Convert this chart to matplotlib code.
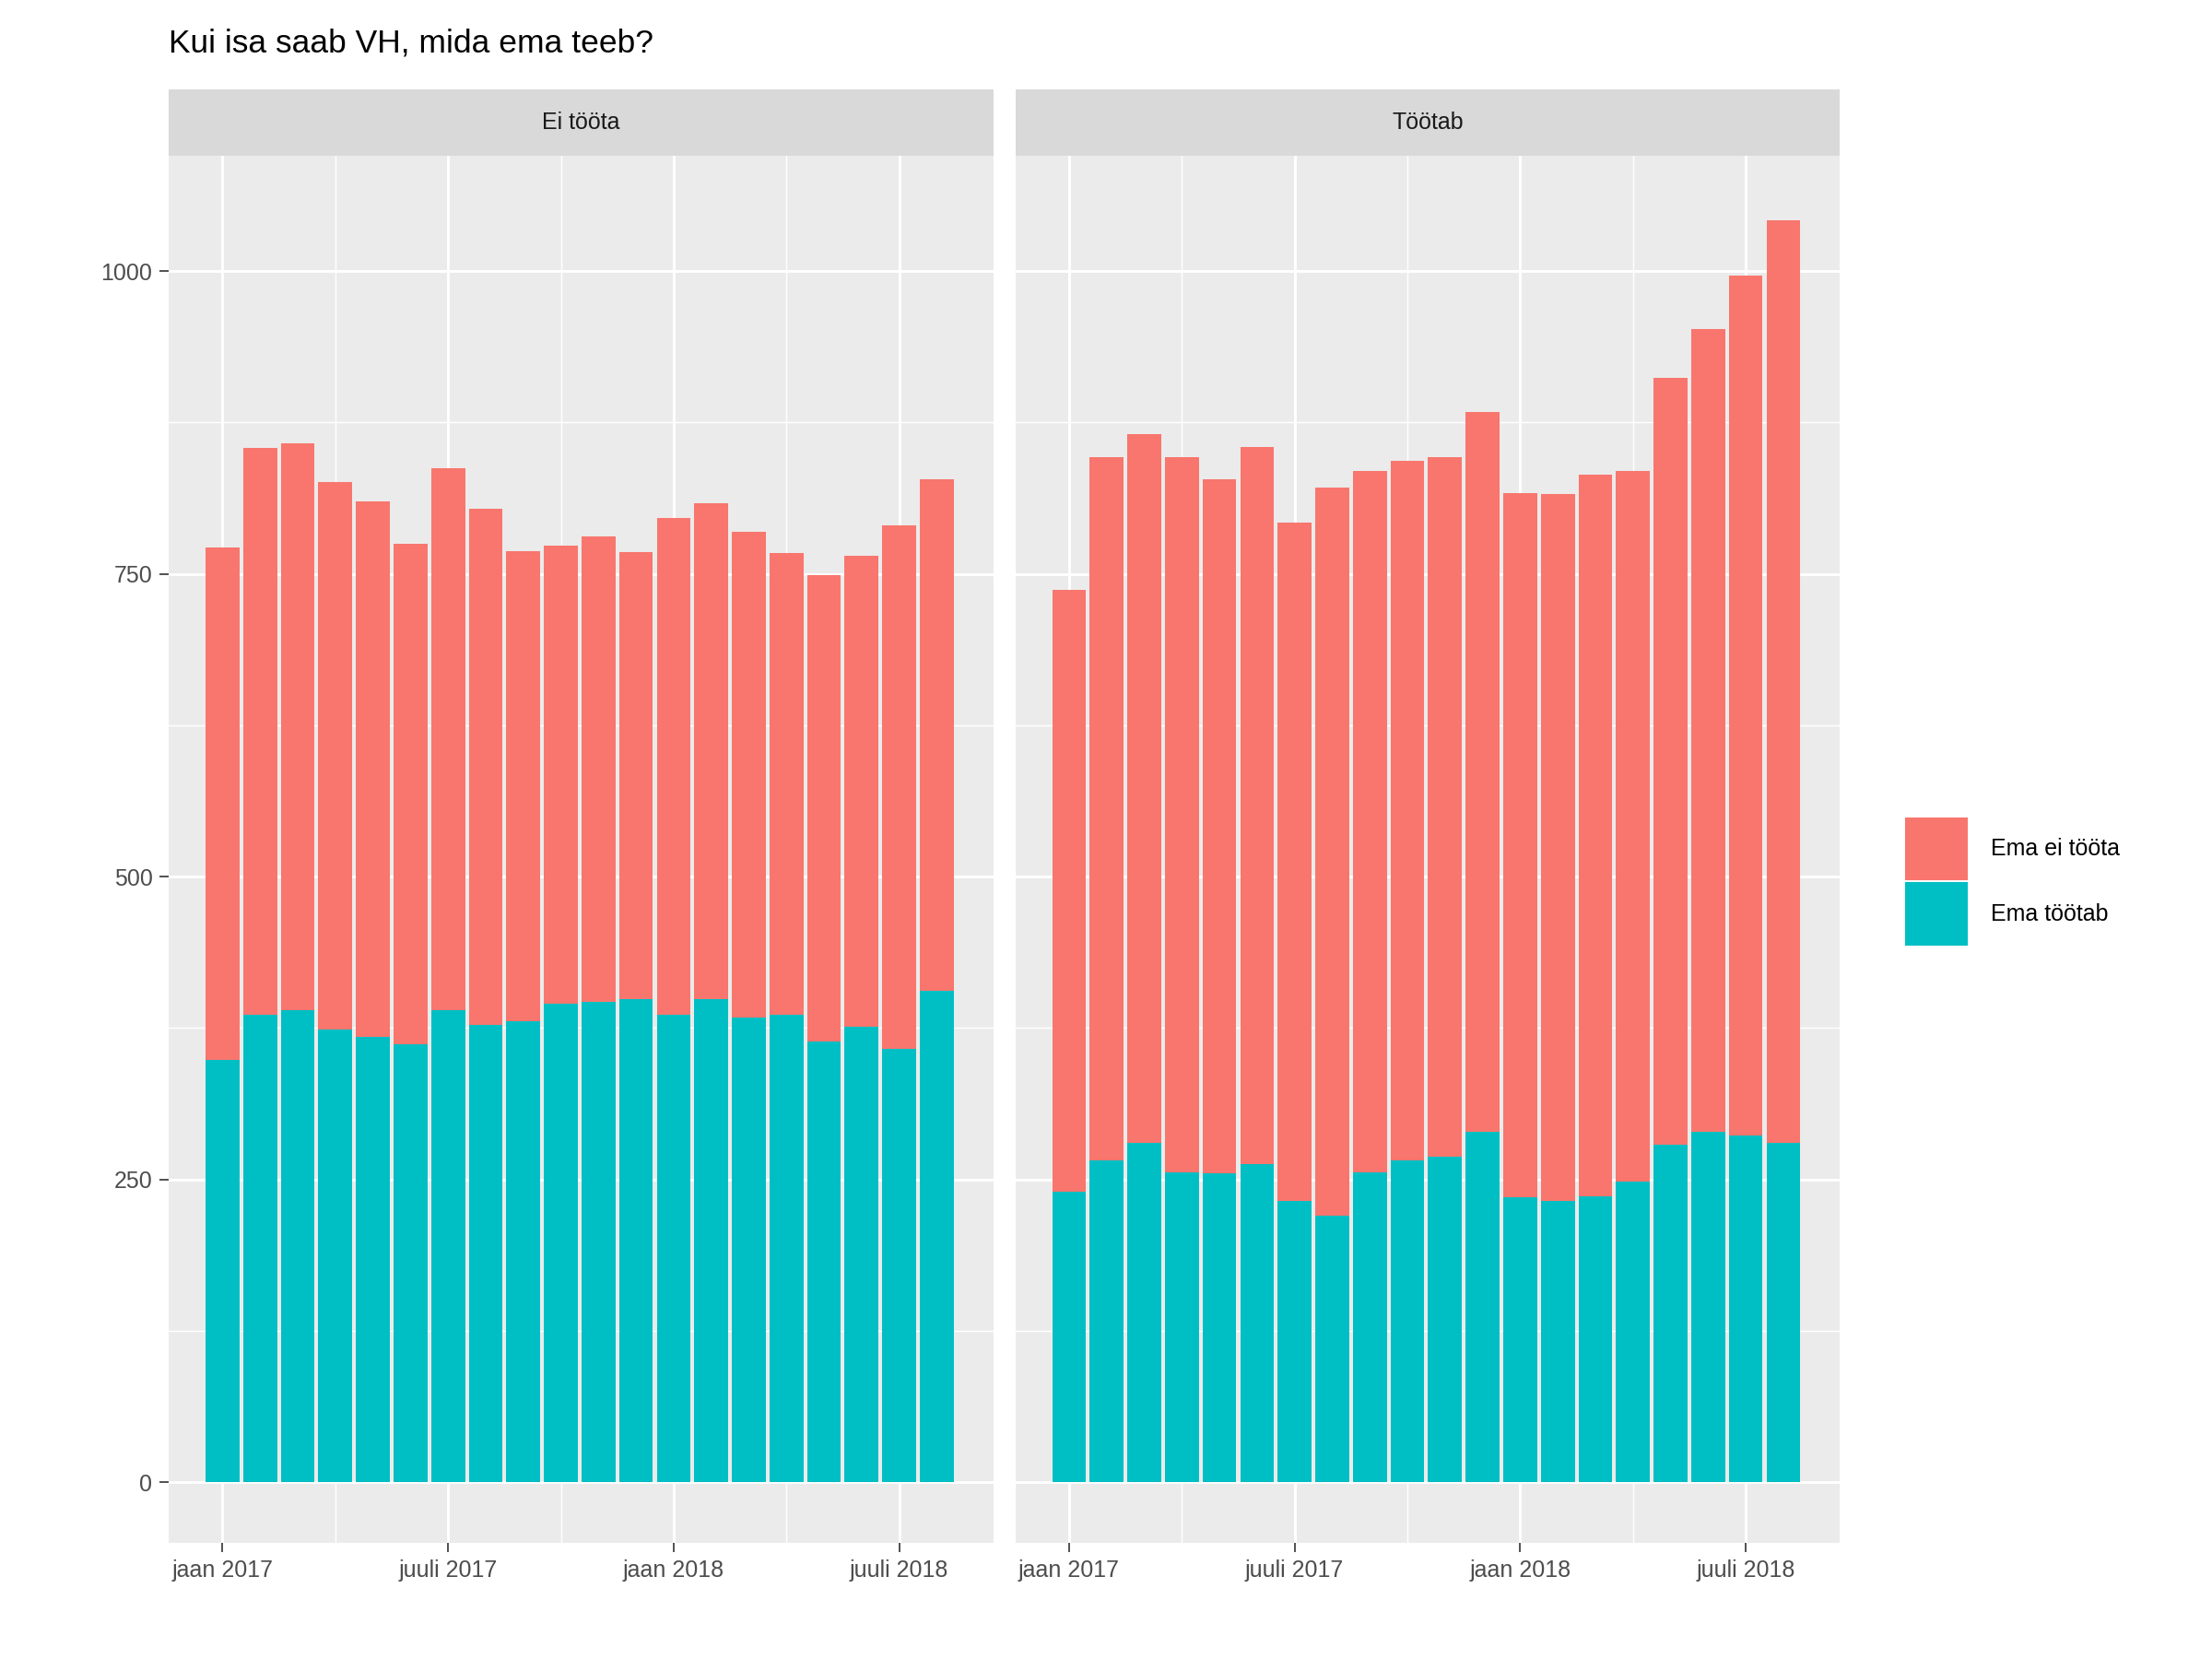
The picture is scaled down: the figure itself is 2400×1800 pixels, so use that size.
import numpy as np
import matplotlib.pyplot as plt
from matplotlib.patches import Rectangle

plt.rcParams['font.family'] = ['Liberation Sans', 'DejaVu Sans']

panels = ["Ei tööta", "Töötab"]
tick_labels = ["jaan 2017", "juuli 2017", "jaan 2018", "juuli 2018"]
months = np.arange(20)  # jaan 2017 .. aug 2018

# Ei tööta
total_ei = [772, 854, 858, 826, 810, 775, 837, 804, 769, 773,
            781, 768, 796, 808, 785, 767, 749, 765, 790, 828]
tootab_ei = [349, 386, 390, 374, 368, 362, 390, 378, 381, 395,
             397, 399, 386, 399, 384, 386, 364, 376, 358, 406]
# Töötab
total_to = [737, 846, 865, 846, 828, 855, 792, 821, 835, 843,
            846, 884, 817, 816, 832, 835, 912, 952, 996, 1042]
tootab_to = [240, 266, 280, 256, 255, 263, 232, 220, 256, 266,
             269, 289, 235, 232, 236, 248, 279, 289, 286, 280]

RED = "#F8766D"
TEAL = "#00BFC4"

fig = plt.figure(figsize=(16, 12), dpi=150)
fig.patch.set_facecolor("white")

lefts = [0.0763, 0.459]
w = 0.3727
bottom, h = 0.070, 0.836
strip_h = 0.040

for i, (name, tot, teal) in enumerate(zip(panels, [total_ei, total_to], [tootab_ei, tootab_to])):
    ax = fig.add_axes([lefts[i], bottom, w, h])
    ax.set_facecolor("#EBEBEB")
    tot = np.array(tot)
    teal = np.array(teal)
    ax.bar(months, teal, width=0.9, color=TEAL, zorder=3)
    ax.bar(months, tot - teal, bottom=teal, width=0.9, color=RED, zorder=3)
    ax.set_xlim(-1.43, 20.5)
    ax.set_ylim(-50, 1095)
    ax.set_xticks([0, 6, 12, 18])
    ax.set_xticks([3, 9, 15], minor=True)
    ax.set_xticklabels(tick_labels, fontsize=12, color="#4D4D4D")
    ax.set_yticks([0, 250, 500, 750, 1000])
    ax.set_yticks([125, 375, 625, 875], minor=True)
    if i == 0:
        ax.set_yticklabels(["0", "250", "500", "750", "1000"], fontsize=12, color="#4D4D4D")
    else:
        ax.set_yticklabels([])
    ax.grid(which="major", color="white", linewidth=1.4, zorder=0)
    ax.grid(which="minor", color="white", linewidth=0.7, zorder=0)
    ax.tick_params(which="major", length=5, color="#333333")
    ax.tick_params(which="minor", length=0)
    if i == 1:
        ax.tick_params(axis="y", which="major", length=0)
    for s in ax.spines.values():
        s.set_visible(False)
    sax = fig.add_axes([lefts[i], bottom + h, w, strip_h])
    sax.set_facecolor("#D9D9D9")
    sax.set_xticks([]); sax.set_yticks([])
    for s in sax.spines.values():
        s.set_visible(False)
    sax.text(0.5, 0.5, name, ha="center", va="center", fontsize=12, color="#1A1A1A",
             transform=sax.transAxes)

fig.text(0.0763, 0.974, "Kui isa saab VH, mida ema teeb?", fontsize=17, ha="left", va="center")

# legend
for j, (lab, col) in enumerate([("Ema ei tööta", RED), ("Ema töötab", TEAL)]):
    y0 = 1 - (620 + 46 * j) / 1170
    fig.add_artist(Rectangle((1344 / 1560, y0), 43 / 1560, 43 / 1170, color=col,
                             transform=fig.transFigure))
    fig.text(1404 / 1560, y0 + 21.5 / 1170, lab, fontsize=12, va="center", ha="left")

fig.savefig("out.png", dpi=150)
